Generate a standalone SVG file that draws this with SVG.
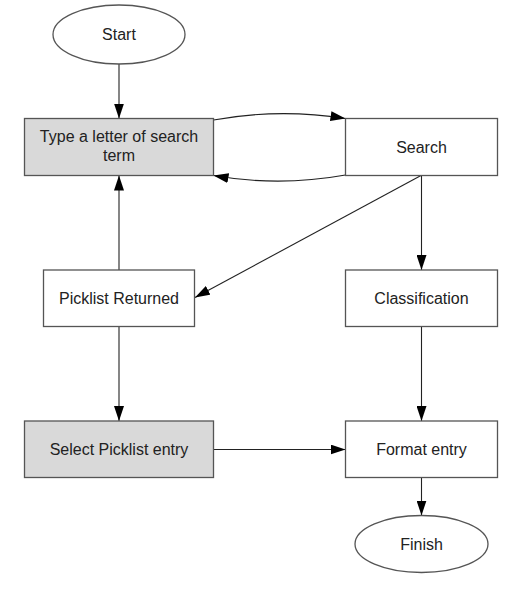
<svg xmlns="http://www.w3.org/2000/svg" width="515" height="589" viewBox="0 0 515 589">
<defs>
<marker id="ah" markerWidth="15" markerHeight="10" refX="15" refY="5" orient="auto" markerUnits="userSpaceOnUse">
<path d="M0,0 L15,5 L0,10 Z" fill="#000"/>
</marker>
<style>
.box{fill:#fff;stroke:#555;stroke-width:1.3}
.grey{fill:#d9d9d9}
.lbl{font-family:"Liberation Sans",Arial,sans-serif;font-size:16px;fill:#222;text-anchor:middle}
.con{fill:none;stroke:#222;stroke-width:1.1;marker-end:url(#ah)}
</style>
</defs>
<rect width="515" height="589" fill="#fff"/>
<g id="connectors">
<line class="con" x1="119" y1="64" x2="119" y2="118.5"/>
<path class="con" d="M213.5,120 Q279,108 345.5,118.5"/>
<path class="con" d="M345.5,175 Q279,187 213.5,175.5"/>
<line class="con" x1="421" y1="175.5" x2="195" y2="297.5"/>
<line class="con" x1="421.5" y1="175.5" x2="421.5" y2="270"/>
<line class="con" x1="119" y1="270" x2="119" y2="175.5"/>
<line class="con" x1="119" y1="326.5" x2="119" y2="421"/>
<line class="con" x1="421.5" y1="326.5" x2="421.5" y2="421"/>
<line class="con" x1="213.5" y1="449.5" x2="345.5" y2="449.5"/>
<line class="con" x1="421.5" y1="477.5" x2="421.5" y2="515.5"/>
</g>
<g id="start">
<ellipse class="box" cx="119" cy="34.5" rx="66" ry="29.5"/>
<text class="lbl" x="119" y="39.5">Start</text>
</g>
<g id="type">
<rect class="box grey" x="24.5" y="118.5" width="189" height="57"/>
<text class="lbl" x="119" y="142">Type a letter of search</text>
<text class="lbl" x="119" y="161">term</text>
</g>
<g id="search">
<rect class="box" x="345.5" y="118.5" width="152" height="57"/>
<text class="lbl" x="421.5" y="152.5">Search</text>
</g>
<g id="picklist">
<rect class="box" x="43.5" y="270" width="151" height="56.5"/>
<text class="lbl" x="119" y="303.5">Picklist Returned</text>
</g>
<g id="classification">
<rect class="box" x="345.5" y="270" width="152" height="56.5"/>
<text class="lbl" x="421.5" y="303.5">Classification</text>
</g>
<g id="select">
<rect class="box grey" x="24.5" y="421" width="189" height="56.5"/>
<text class="lbl" x="119" y="455">Select Picklist entry</text>
</g>
<g id="format">
<rect class="box" x="345.5" y="421" width="152" height="56.5"/>
<text class="lbl" x="421.5" y="455">Format entry</text>
</g>
<g id="finish">
<ellipse class="box" cx="421.5" cy="544" rx="66.5" ry="28.5"/>
<text class="lbl" x="421.5" y="549.5">Finish</text>
</g>
</svg>
